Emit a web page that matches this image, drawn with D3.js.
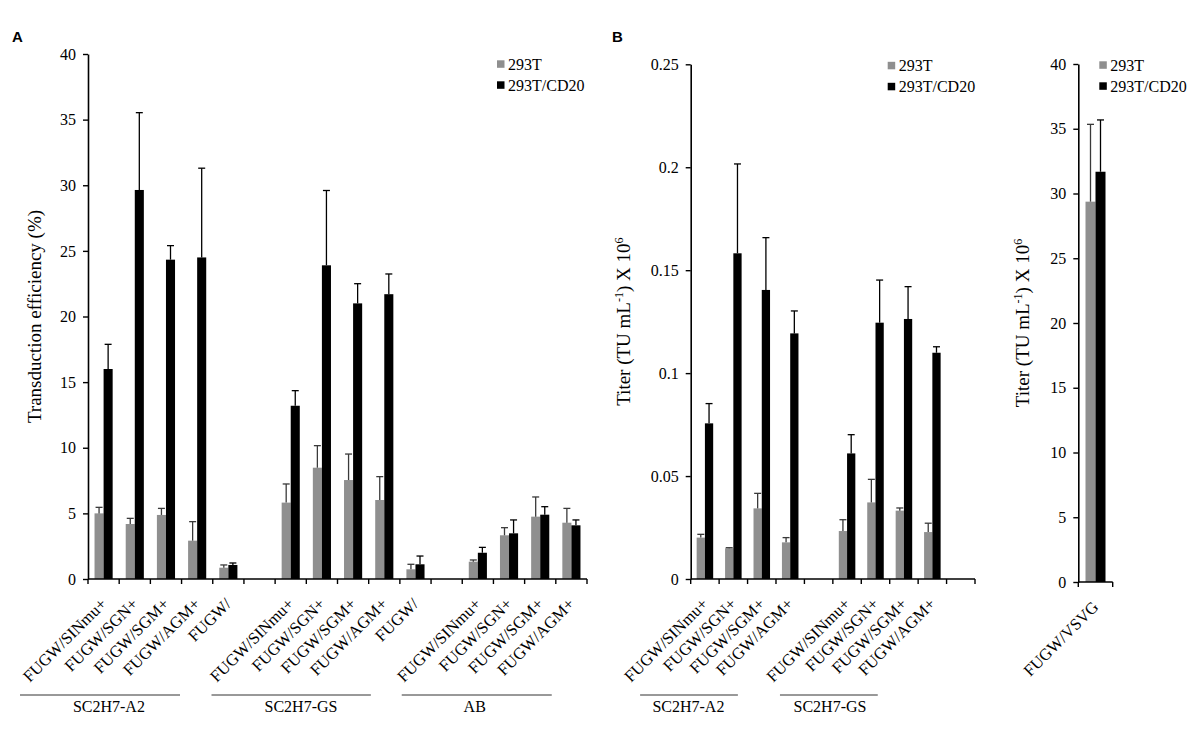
<!DOCTYPE html>
<html>
<head>
<meta charset="utf-8">
<script src="https://cdn.jsdelivr.net/npm/d3@7"></script>
<style>
  html, body { margin: 0; padding: 0; background: #fff; }
  svg text { font-family: "Liberation Serif", "Times New Roman", serif; fill: #000; }
</style>
</head>
<body>
<svg id="chart" width="1200" height="732"></svg>
<script>
// ---------- DATA ----------
const seriesNames = ["293T", "293T/CD20"];

// Panel A: transduction efficiency (%)
const labelsA = ["FUGW/SINmu+", "FUGW/SGN+", "FUGW/SGM+", "FUGW/AGM+", "FUGW/", "",
                 "FUGW/SINmu+", "FUGW/SGN+", "FUGW/SGM+", "FUGW/AGM+", "FUGW/", "",
                 "FUGW/SINmu+", "FUGW/SGN+", "FUGW/SGM+", "FUGW/AGM+"];
const a293T     = [5.0, 4.19, 4.88, 2.92, 0.86, null, 5.82, 8.48, 7.54, 6.02, 0.74, null, 1.32, 3.33, 4.75, 4.29];
const a293TErr  = [0.46, 0.43, 0.5, 1.45, 0.21, null, 1.42, 1.68, 1.98, 1.78, 0.38, null, 0.13, 0.58, 1.5, 1.09];
const aCD20     = [16.0, 29.64, 24.33, 24.5, 1.07, null, 13.2, 23.9, 21.0, 21.7, 1.12, null, 2.0, 3.48, 4.9, 4.09];
const aCD20Err  = [1.88, 5.89, 1.07, 6.8, 0.15, null, 1.15, 5.7, 1.5, 1.54, 0.63, null, 0.41, 1.02, 0.61, 0.41];
const ticksA    = ["0", "5", "10", "15", "20", "25", "30", "35", "40"];
const groupsA   = ["SC2H7-A2", "SC2H7-GS", "AB"];

// Panel B: titer (TU/mL x 10^6)
const labelsB = ["FUGW/SINmu+", "FUGW/SGN+", "FUGW/SGM+", "FUGW/AGM+", "",
                 "FUGW/SINmu+", "FUGW/SGN+", "FUGW/SGM+", "FUGW/AGM+", ""];
const b293T    = [0.0201, 0.0149, 0.0343, 0.0178, null, 0.0233, 0.0372, 0.0332, 0.0228, null];
const b293TErr = [0.0016, 0.0003, 0.0073, 0.0023, null, 0.0055, 0.0112, 0.0013, 0.0043, null];
const bCD20    = [0.0756, 0.1582, 0.1404, 0.1193, null, 0.061, 0.1245, 0.1263, 0.1099, null];
const bCD20Err = [0.0096, 0.0434, 0.0254, 0.0109, null, 0.0091, 0.0207, 0.0157, 0.0029, null];
const ticksB   = ["0", "0.05", "0.1", "0.15", "0.2", "0.25"];
const groupsB  = ["SC2H7-A2", "SC2H7-GS"];

// Panel C: VSVG titer
const labelsC  = ["FUGW/VSVG"];
const c293T    = [29.37];
const c293TErr = [5.97];
const cCD20    = [31.68];
const cCD20Err = [4.0];
const ticksC   = ["0", "5", "10", "15", "20", "25", "30", "35", "40"];

// ---------- DRAW ----------
const svg = d3.select("#chart");
const colors = ["#8f8f8f", "#000000"];
const errColors = ["#3a3a3a", "#000000"];

function drawPanel(cfg) {
  const g = svg.append("g");
  const n = cfg.labels.length;
  const x = d3.scaleBand().domain(d3.range(n)).range(cfg.xr).paddingInner(0).paddingOuter(0);
  const xs = d3.scaleBand().domain([0, 1]).range([0, x.bandwidth()]).paddingInner(0).paddingOuter(0.72);
  const tv = cfg.ticks.map(Number);
  const y = d3.scaleLinear().domain([0, d3.max(tv)]).range(cfg.yr);

  // y axis
  const ya = g.append("g").attr("transform", `translate(${cfg.xr[0]},0)`)
    .call(d3.axisLeft(y).tickValues(tv).tickFormat((d, i) => cfg.ticks[i]).tickSize(5).tickSizeOuter(0).tickPadding(7));
  ya.select(".domain").attr("stroke", "#000").attr("stroke-width", 1.6);
  ya.selectAll(".tick line").attr("stroke", "#000").attr("stroke-width", 1.4);
  ya.selectAll(".tick text").style("font-family", '"Liberation Serif", serif').style("font-size", "16px").attr("fill", "#000");

  // bars
  const series = [
    { vals: cfg.s1, errs: cfg.e1 },
    { vals: cfg.s2, errs: cfg.e2 }
  ];
  series.forEach((s, si) => {
    const data = s.vals.map((v, i) => ({ i, v, e: s.errs[i] })).filter(d => d.v != null);
    g.append("g").selectAll("rect").data(data).join("rect")
      .attr("x", d => x(d.i) + xs(si))
      .attr("width", xs.bandwidth())
      .attr("y", d => y(d.v))
      .attr("height", d => y(0) - y(d.v))
      .attr("fill", colors[si]);
    const eg = g.append("g").attr("stroke", errColors[si]).attr("stroke-width", 1.3);
    data.forEach(d => {
      const cx = x(d.i) + xs(si) + xs.bandwidth() / 2;
      eg.append("line").attr("x1", cx).attr("x2", cx).attr("y1", y(d.v)).attr("y2", y(d.v + d.e));
      eg.append("line").attr("x1", cx - 3.5).attr("x2", cx + 3.5).attr("y1", y(d.v + d.e)).attr("y2", y(d.v + d.e));
    });
  });

  // x axis
  const y0 = y(0);
  g.append("line").attr("x1", cfg.xr[0]).attr("x2", cfg.xr[1]).attr("y1", y0).attr("y2", y0)
    .attr("stroke", "#000").attr("stroke-width", 1.6);
  const bounds = d3.range(n).map(i => x(i)).concat([cfg.xr[1]]);
  g.append("g").selectAll("line").data(bounds).join("line")
    .attr("x1", d => d).attr("x2", d => d).attr("y1", y0).attr("y2", y0 + 5)
    .attr("stroke", "#000").attr("stroke-width", 1.4);

  // category labels
  g.append("g").selectAll("text").data(cfg.labels.map((l, i) => ({ l, i })).filter(d => d.l))
    .join("text")
    .attr("transform", d => `translate(${x(d.i) + x.bandwidth() / 2 + 4},${y0 + 26}) rotate(-45)`)
    .attr("text-anchor", "end")
    .style("font-size", "16.5px")
    .text(d => d.l);

  // y title
  const t = g.append("text")
    .attr("transform", `translate(${cfg.titleX},${(cfg.yr[0] + cfg.yr[1]) / 2}) rotate(-90)`)
    .attr("text-anchor", "middle")
    .style("font-size", "19px");
  cfg.title.forEach(part => {
    const ts = t.append("tspan").text(part.t);
    if (part.sup) ts.attr("dy", -7).style("font-size", "12px");
    if (part.after) ts.attr("dy", 7);
  });

  // legend
  const lg = g.append("g").attr("transform", `translate(${cfg.legend[0]},${cfg.legend[1]})`);
  seriesNames.forEach((nm, i) => {
    lg.append("rect").attr("x", 0).attr("y", i * 21 - 3.7).attr("width", 7.5).attr("height", 7.5).attr("fill", colors[i]);
    lg.append("text").attr("x", 11).attr("y", i * 21 + 5.5).style("font-size", "16px").text(nm);
  });

  // groups
  (cfg.groups || []).forEach(gr => {
    const x1 = cfg.xr[0] + gr.a * x.step(), x2 = cfg.xr[0] + gr.b * x.step();
    g.append("line").attr("x1", x1).attr("x2", x2).attr("y1", 695).attr("y2", 695)
      .attr("stroke", "#333").attr("stroke-width", 1);
    g.append("text").attr("x", cfg.xr[0] + gr.c * x.step()).attr("y", 712)
      .attr("text-anchor", "middle").style("font-size", "16px").text(gr.name);
  });
  return { x, y };
}

drawPanel({
  labels: labelsA, s1: a293T, e1: a293TErr, s2: aCD20, e2: aCD20Err, ticks: ticksA,
  xr: [88, 587], yr: [579, 54], titleX: 41, legend: [497, 64],
  title: [{ t: "Transduction efficiency (%)" }],
  groups: [
    { name: groupsA[0], a: -2.18, b: 2.95, c: 0.67 },
    { name: groupsA[1], a: 3.96, b: 9.07, c: 6.83 },
    { name: groupsA[2], a: 10.06, b: 14.87, c: 12.4 }
  ]
});

drawPanel({
  labels: labelsB, s1: b293T, e1: b293TErr, s2: bCD20, e2: bCD20Err, ticks: ticksB,
  xr: [690.7, 975], yr: [579, 64.3], titleX: 630, legend: [887.7, 65.5],
  title: [{ t: "Titer (TU mL" }, { t: "-1", sup: true }, { t: ") X 10", after: true }, { t: "6", sup: true }],
  groups: [
    { name: groupsB[0], a: -1.78, b: 1.66, c: -0.08 },
    { name: groupsB[1], a: 3.14, b: 6.58, c: 4.9 }
  ]
});

drawPanel({
  labels: labelsC, s1: c293T, e1: c293TErr, s2: cCD20, e2: cCD20Err, ticks: ticksC,
  xr: [1078.3, 1112.7], yr: [582, 64], titleX: 1029, legend: [1099.3, 65],
  title: [{ t: "Titer (TU mL" }, { t: "-1", sup: true }, { t: ") X 10", after: true }, { t: "6", sup: true }]
});

// panel letters
svg.append("text").attr("x", 12).attr("y", 42).style("font-family", '"Liberation Sans", Arial, sans-serif')
  .style("font-weight", "bold").style("font-size", "15px").text("A");
svg.append("text").attr("x", 612).attr("y", 42).style("font-family", '"Liberation Sans", Arial, sans-serif')
  .style("font-weight", "bold").style("font-size", "15px").text("B");
</script>
</body>
</html>
